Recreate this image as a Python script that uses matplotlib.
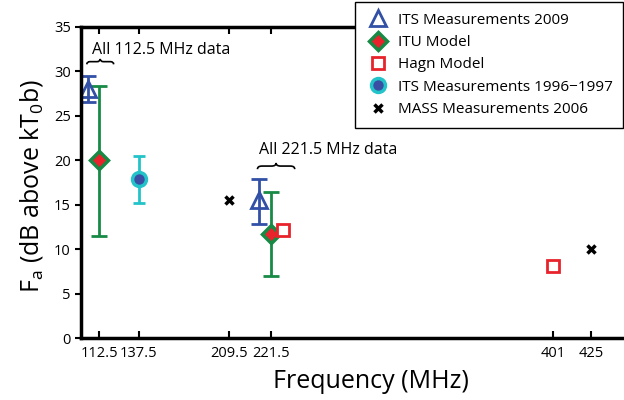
import matplotlib
matplotlib.use("Agg")
import matplotlib.pyplot as plt
from matplotlib.path import Path
from matplotlib.patches import PathPatch

plt.rcParams['font.family'] = ['Open Sans', 'DejaVu Sans']

# tick positions along the frequency axis and their labels
tick_pos = [112.5, 137.5, 195.0, 221.5, 401.0, 425.0]
tick_labels = ['112.5', '137.5', '209.5', '221.5', '401', '425']

# ITS measurements 2009 (offset slightly left of the nominal frequency)
its09_x = [105.5, 214.0]
its09_y = [28.0, 15.5]
its09_lo = [26.6, 12.8]
its09_hi = [29.5, 17.9]

# ITU model
itu_x = [112.5, 221.5]
itu_y = [20.0, 11.7]
itu_lo = [11.5, 7.0]
itu_hi = [28.4, 16.4]

# Hagn model
hagn_x = [229.2, 401.0]
hagn_y = [12.2, 8.1]

# ITS measurements 1996-1997
its96_x = [138.0]
its96_y = [17.9]
its96_lo = [15.2]
its96_hi = [20.5]

# MASS measurements 2006
mass_x = [195.0, 425.0]
mass_y = [15.5, 10.0]

blue = '#3150a6'
green = '#178a45'
red = '#e8232b'
cyan = '#22c3c9'


def brace(ax, x0, x1, y, h):
    # over-brace: ends point down, middle points up
    w = x1 - x0
    xm = (x0 + x1) / 2
    verts = [(x0, y), (x0, y + h * 0.5), (x0 + w * 0.12, y + h * 0.5),
             (xm - w * 0.12, y + h * 0.5), (xm, y + h * 0.5), (xm, y + h),
             (xm, y + h * 0.5), (xm + w * 0.12, y + h * 0.5),
             (x1 - w * 0.12, y + h * 0.5), (x1, y + h * 0.5), (x1, y)]
    codes = [Path.MOVETO, Path.CURVE3, Path.CURVE3, Path.LINETO,
             Path.CURVE3, Path.CURVE3, Path.CURVE3, Path.CURVE3,
             Path.LINETO, Path.CURVE3, Path.CURVE3]
    ax.add_patch(PathPatch(Path(verts, codes), fill=False, lw=1.2,
                           color='black', clip_on=False))


fig = plt.figure(figsize=(6.24, 4.0), dpi=100)
ax = fig.add_axes([0.13, 0.155, 0.87, 0.7775])


def err(lo, y, hi):
    return [[v - l for v, l in zip(y, lo)], [h - v for v, h in zip(y, hi)]]


ax.errorbar(its09_x, its09_y, yerr=err(its09_lo, its09_y, its09_hi), fmt='none',
            ecolor=blue, elinewidth=2, capsize=6, capthick=2)
ax.errorbar(itu_x, itu_y, yerr=err(itu_lo, itu_y, itu_hi), fmt='none',
            ecolor=green, elinewidth=2, capsize=6, capthick=2)
ax.errorbar(its96_x, its96_y, yerr=err(its96_lo, its96_y, its96_hi), fmt='none',
            ecolor=cyan, elinewidth=2, capsize=4, capthick=2)

ax.plot(its09_x, its09_y, '^', ms=11, mfc='none', mec=blue, mew=2,
        ls='none', label='ITS Measurements 2009')
ax.plot(itu_x, itu_y, 'D', ms=9, mfc=red, mec=green, mew=2.5,
        ls='none', label='ITU Model')
ax.plot(hagn_x, hagn_y, 's', ms=8, mfc='white', mec=red, mew=2,
        ls='none', label='Hagn Model')
ax.plot(its96_x, its96_y, 'o', ms=10, mfc='#3a4ea3', mec=cyan, mew=2.5,
        ls='none', label='ITS Measurements 1996\u22121997')
ax.plot(mass_x, mass_y, 'x', ms=6, mec='black', mew=2.5,
        ls='none', label='MASS Measurements 2006')

brace(ax, its09_x[0] - 1, 121.6, 30.8, 0.6)
ax.text(107.9, 32.4, 'All 112.5 MHz data', fontsize=11.5, va='center', ha='left')
brace(ax, 213.0, 236.7, 19.0, 0.7)
ax.text(214.1, 21.2, 'All 221.5 MHz data', fontsize=11.5, va='center', ha='left')

ax.set_xlim(100.9, 446)
ax.set_ylim(0, 35)
ax.set_xticks(tick_pos)
ax.set_xticklabels(tick_labels)
ax.set_yticks(range(0, 36, 5))
ax.tick_params(axis='x', direction='in', top=True, length=5, width=1.5,
               labelsize=10.5, pad=6)
ax.tick_params(axis='y', direction='out', length=4, width=1.5, labelsize=10.5)
for s in ['left', 'bottom', 'top']:
    ax.spines[s].set_linewidth(2.5)
ax.spines['right'].set_visible(False)

ax.set_xlabel('Frequency (MHz)', fontsize=18)
ax.xaxis.set_label_coords(0.534, -0.1)
ax.set_ylabel('F$_\\mathregular{a}$ (dB above kT$_\\mathregular{0}$b)', fontsize=18)
ax.yaxis.set_label_coords(-0.066, 0.49)

leg = ax.legend(loc='upper left', bbox_to_anchor=(0.569, 0.995),
                bbox_transform=fig.transFigure, borderaxespad=0, fontsize=11,
                fancybox=False, framealpha=1, edgecolor='black',
                handlelength=1.6, handletextpad=0.5, labelspacing=0.48,
                borderpad=0.7)
leg.get_frame().set_linewidth(1)

fig.savefig('out.png', dpi=100)
